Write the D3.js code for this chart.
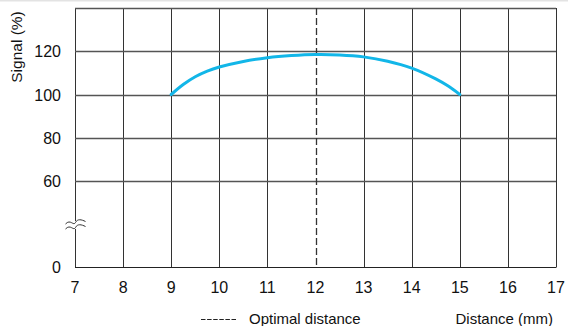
<!DOCTYPE html>
<html><head><meta charset="utf-8">
<script src="https://cdn.jsdelivr.net/npm/d3@7"></script>
<style>
html,body{margin:0;padding:0;background:#fff;}
svg{display:block;font-family:Arial,"Liberation Sans",sans-serif;}
</style></head>
<body>
<svg id="c" width="568" height="326"></svg>
<script>
const xTicks = [7,8,9,10,11,12,13,14,15,16,17];
const yTicks = [0,60,80,100,120];
const distance = [9,9.25,9.5,9.75,10,10.5,11,11.5,12,12.5,13,13.5,14,14.5,14.75,15];
const signal = [100,104.6,108.2,110.8,112.7,115.3,117.0,118.0,118.5,118.3,117.4,115.4,112.2,107.2,104.0,100];
const optimalDistance = 12;

const svg = d3.select("#c");
const L=75, R=556, T=8, B=267;
const x = d3.scaleLinear().domain([7,17]).range([L,R]);
const y = d3.scaleLinear().domain([0,60,140]).range([B,181,T]);

svg.append("line").attr("x1",0).attr("x2",568).attr("y1",0.5).attr("y2",0.5)
  .attr("stroke","#e3e3e3").attr("stroke-width",2);

const g = svg.append("g");
g.selectAll("line.v").data(xTicks.filter(d=>d!==optimalDistance)).join("line")
  .attr("x1",d=>Math.round(x(d))+0.5).attr("x2",d=>Math.round(x(d))+0.5)
  .attr("y1",T).attr("y2",B).attr("stroke","#333").attr("stroke-width",1);
g.selectAll("line.h").data(yTicks.filter(d=>d>0).concat([140])).join("line")
  .attr("x1",L).attr("x2",R)
  .attr("y1",d=>Math.round(y(d))+0.5).attr("y2",d=>Math.round(y(d))+0.5)
  .attr("stroke","#555").attr("stroke-width",1.3);
g.append("line").attr("x1",L).attr("x2",R+0.5).attr("y1",B+0.5).attr("y2",B+0.5)
  .attr("stroke","#222").attr("stroke-width",1);
g.append("line").attr("x1",Math.round(x(optimalDistance))+0.5).attr("x2",Math.round(x(optimalDistance))+0.5)
  .attr("y1",T).attr("y2",B).attr("stroke","#333").attr("stroke-width",1.3)
  .attr("stroke-dasharray","7,3");

// axis break symbol
const by = 225, bx = Math.round(x(7))+0.5;
svg.append("rect").attr("x",bx-8).attr("y",by-4).attr("width",16).attr("height",8).attr("fill","#fff");
[-2.5,2.5].forEach(o=>{
  svg.append("path")
    .attr("d",`M${bx-10},${by+o+1.5} C${bx-5},${by+o-4} ${bx-2},${by+o+4} ${bx},${by+o} S${bx+6},${by+o-3} ${bx+10},${by+o-1}`)
    .attr("fill","none").attr("stroke","#333").attr("stroke-width",1);
});

// curve
const line = d3.line().x((d,i)=>x(distance[i])).y(d=>y(d)).curve(d3.curveCatmullRom.alpha(0.5));
svg.append("path").datum(signal).attr("d",line)
  .attr("fill","none").attr("stroke","#12b6e8").attr("stroke-width",3).attr("stroke-linecap","round");

svg.selectAll("text.yt").data(yTicks).join("text")
  .attr("x",61).attr("y",d=>y(d)+6).attr("text-anchor","end")
  .attr("font-size",16).attr("fill","#111").text(d=>d);
svg.selectAll("text.xt").data(xTicks).join("text")
  .attr("x",d=>x(d)).attr("y",293).attr("text-anchor","middle")
  .attr("font-size",16).attr("fill","#111").text(d=>d);

svg.append("text").attr("transform","translate(22,47) rotate(-90)")
  .attr("text-anchor","middle").attr("font-size",15.5).attr("fill","#111").text("Signal (%)");

svg.append("line").attr("x1",201).attr("x2",236).attr("y1",319.5).attr("y2",319.5)
  .attr("stroke","#222").attr("stroke-width",1.2).attr("stroke-dasharray","4.5,1.6");
svg.append("text").attr("x",249).attr("y",324).attr("font-size",15).attr("fill","#111").text("Optimal distance");
svg.append("text").attr("x",553).attr("y",324).attr("text-anchor","end").attr("font-size",15).attr("fill","#111").text("Distance (mm)");
</script>
</body></html>
